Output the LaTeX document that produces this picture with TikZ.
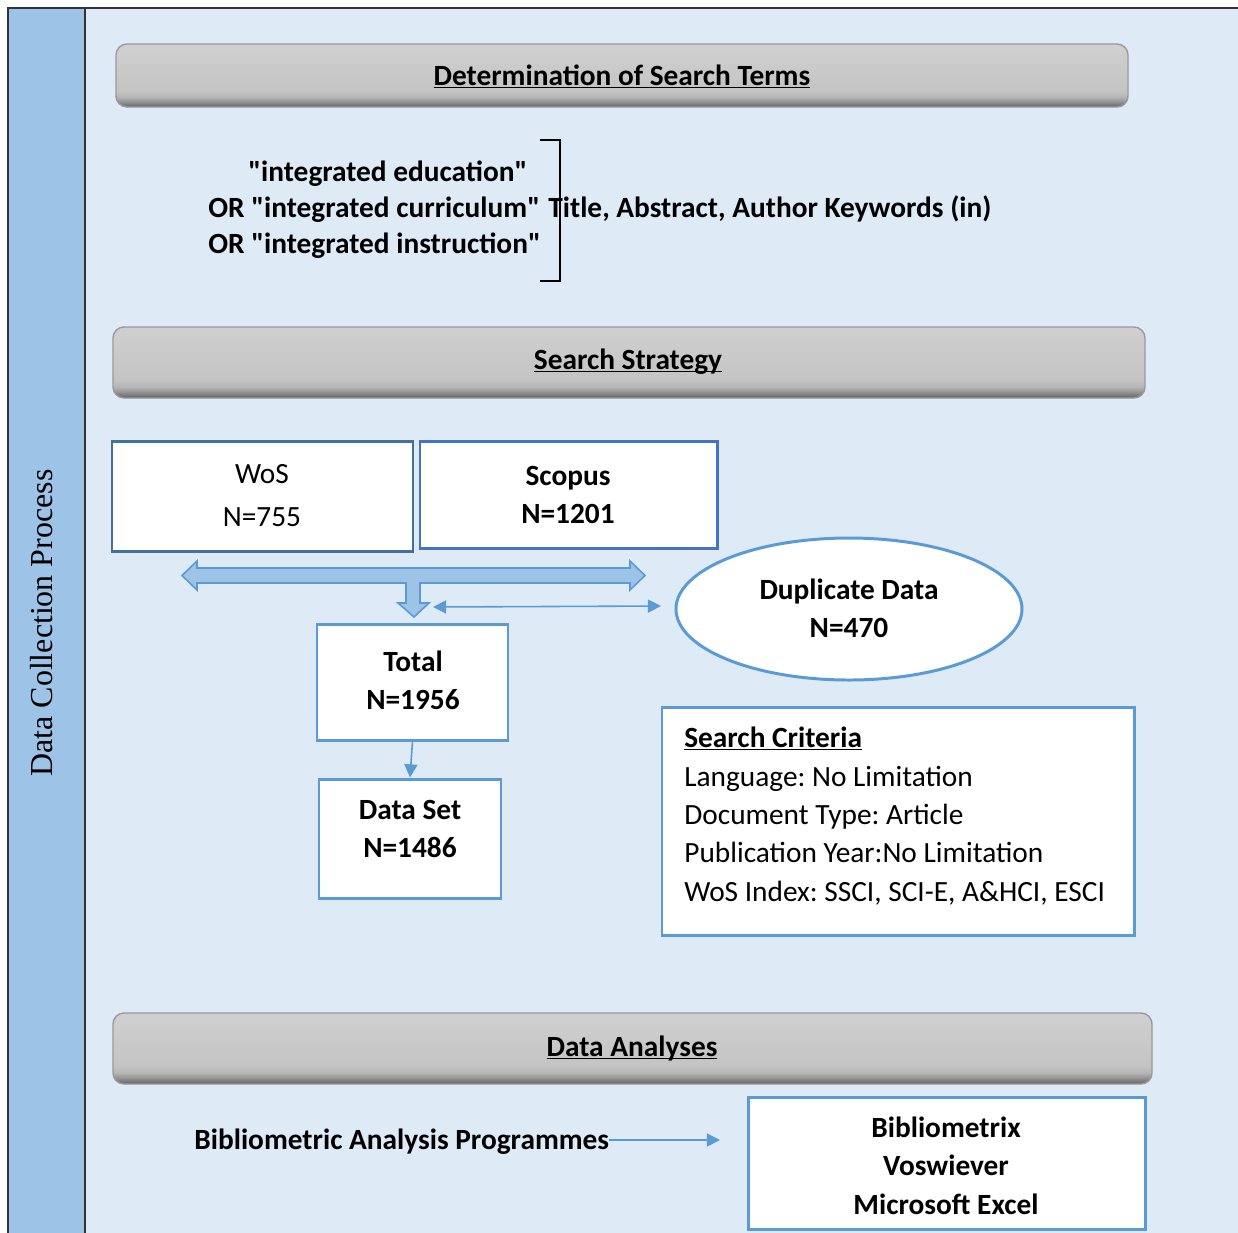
\documentclass[tikz,border=0pt]{standalone}
\usepackage{fontspec}
\setmainfont{Carlito}
\newfontfamily\sidefont{Liberation Serif}
\usetikzlibrary{shapes.geometric,arrows.meta}
\definecolor{stripblue}{HTML}{9DC3E6}
\definecolor{bgblue}{HTML}{DEEAF6}
\definecolor{accent}{HTML}{5B9BD5}
\definecolor{wosblue}{HTML}{41719C}
\definecolor{scoblue}{HTML}{4472C4}
\definecolor{framegray}{HTML}{333333}
\definecolor{barA}{HTML}{D0D0D0}
\definecolor{barB}{HTML}{C4C4C4}
\definecolor{barC}{HTML}{B6B6B6}
\definecolor{barC2}{HTML}{9A9A9A}
\definecolor{barC3}{HTML}{7A7A7A}
\definecolor{barD}{HTML}{606060}
\definecolor{barEdge}{HTML}{9A9A9A}
\pgfdeclareverticalshading{barshade}{100bp}{color(0bp)=(barD); color(25bp)=(barD); color(27bp)=(barC3); color(30bp)=(barC2); color(33bp)=(barC); color(38bp)=(barB); color(75bp)=(barA); color(100bp)=(barA)}
\newcommand\mainsz{\fontsize{16.7}{20}\selectfont}
\newcommand\uln[1]{\underline{\vphantom{A}\smash{#1}}}
\def\pxl{0.02cm}
\begin{document}
\frenchspacing
\begin{tikzpicture}[x=0.02cm,y=-0.02cm,
  hdr/.style={shading=barshade, draw=barEdge, line width=0.8pt, rounded corners=0.22cm, inner sep=0},
  boxw/.style={draw=wosblue, fill=white, line width=1.7pt, inner sep=0},
  boxs/.style={draw=scoblue, fill=white, line width=1.7pt, inner sep=0},
  boxa/.style={draw=accent, fill=white, line width=1.7pt, inner sep=0},
  txt/.style={anchor=base, inner sep=0, font=\mainsz},
  txtb/.style={anchor=base, inner sep=0, font=\mainsz\bfseries},
  txtw/.style={anchor=base west, inner sep=0, font=\mainsz},
  txtwb/.style={anchor=base west, inner sep=0, font=\mainsz\bfseries},
  thinarrow/.style={draw=accent, line width=0.9pt, -{Triangle[length=7.5pt,width=7.5pt]}},
  thindouble/.style={draw=accent, line width=0.9pt, {Triangle[length=7.5pt,width=7.5pt]}-{Triangle[length=7.5pt,width=7.5pt]}},
  frameline/.style={draw=framegray, line width=1.1pt}]
\begin{scope}
\clip (0,0) rectangle (1238,1232);
\fill[stripblue] (8,8) rectangle (85,1250);
\fill[bgblue] (85,8) rectangle (1250,1250);
\draw[frameline] (8,1250) -- (8,8) -- (1250,8);
\draw[frameline] (85,8) -- (85,1250);
\end{scope}
\useasboundingbox (0,0) rectangle (1238,1232);

% side label
\node[rotate=90, inner sep=0, font=\sidefont\fontsize{18.2}{21}\selectfont] (side) at (42,623) {Data Collection Process};

% header bars
\node[hdr, minimum width=1012*\pxl, minimum height=63*\pxl] (h1) at (622,75.5) {};
\node[txtb] (h1t) at (622,85) {\uln{Determination of Search Terms}};
\node[hdr, minimum width=1032*\pxl, minimum height=71*\pxl] (h2) at (629,362.5) {};
\node[txtb] (h2t) at (628,369) {\uln{Search Strategy}};
\node[hdr, minimum width=1039*\pxl, minimum height=71*\pxl] (h3) at (632.5,1048.5) {};
\node[txtb] (h3t) at (632,1056) {\uln{Data Analyses}};

% search terms
\node[txtwb] (t1) at (248,181) {\textquotedbl integrated education\textquotedbl};
\node[txtwb] (t2) at (208,217) {OR \textquotedbl integrated curriculum\textquotedbl};
\node[txtwb] (t3) at (208,253) {OR \textquotedbl integrated instruction\textquotedbl};
\draw[draw=black, line width=1.1pt] (540,140) -- (560,140) -- (560,281) -- (540,281);
\node[txtwb] (fields) at (548,217) {Title, Abstract, Author Keywords (in)};

% databases
\node[boxw, minimum width=301*\pxl, minimum height=110*\pxl] (wos) at (262.5,496) {};
\node[txt] (wos1) at (262,483) {WoS};
\node[txt] (wos2) at (262,526) {N=755};
\node[boxs, minimum width=297*\pxl, minimum height=107*\pxl] (sco) at (568.5,494.5) {};
\node[txtb] (sco1) at (568,485) {Scopus};
\node[txtb] (sco2) at (568,523) {N=1201};

% block arrow
\filldraw[fill=stripblue, draw=accent, line width=0.9pt, line join=miter]
  (182,575.5) -- (197,561) -- (197,568) -- (630,568) -- (630,561) -- (645,575.5)
  -- (630,590) -- (630,583) -- (420,583) -- (420,603) -- (429,603) -- (414,617)
  -- (398,603) -- (406,603) -- (406,583) -- (197,583) -- (197,590) -- cycle;

% duplicates
\node[ellipse, draw=accent, fill=white, line width=1.7pt, inner sep=0, minimum width=346*\pxl, minimum height=142*\pxl] (dup) at (849,609) {};
\node[txtb] (dup1) at (849,599) {Duplicate Data};
\node[txtb] (dup2) at (849,637) {N=470};
\coordinate (dl) at (433,607);
\coordinate (dr) at (661,606);
\draw[thindouble] (dl) -- (dr);

% total and data set
\node[boxa, minimum width=191*\pxl, minimum height=116*\pxl] (tot) at (412.5,682) {};
\node[txtb] (tot1) at (413,671) {Total};
\node[txtb] (tot2) at (413,709) {N=1956};
\node[boxa, minimum width=182*\pxl, minimum height=119*\pxl] (ds) at (410,838.5) {};
\node[txtb] (ds1) at (410,819) {Data Set};
\node[txtb] (ds2) at (410,857) {N=1486};
\draw[thinarrow] (tot.south) -- (ds.north);

% search criteria
\node[boxa, minimum width=472*\pxl, minimum height=228*\pxl] (crit) at (898,821) {};
\node[txtwb] (c1) at (684,747) {\uln{Search Criteria}};
\node[txtw] (c2) at (684,786) {Language: No Limitation};
\node[txtw] (c3) at (684,824) {Document Type: Article};
\node[txtw] (c4) at (684,862) {Publication Year:No Limitation};
\node[txtw] (c5) at (684,901) {WoS Index: SSCI, SCI-E, A\&HCI, ESCI};

% analysis
\node[txtwb] (prog) at (194,1149) {Bibliometric Analysis Programmes};
\node[boxa, minimum width=397*\pxl, minimum height=132*\pxl] (tools) at (946.5,1163) {};
\node[txtb] (tl1) at (946,1137) {Bibliometrix};
\node[txtb] (tl2) at (946,1175) {Voswiever};
\node[txtb] (tl3) at (946,1214) {Microsoft Excel};
\coordinate (progend) at (720,1140);
\draw[thinarrow] (prog.east |- progend) -- (progend);
\end{tikzpicture}
\end{document}
